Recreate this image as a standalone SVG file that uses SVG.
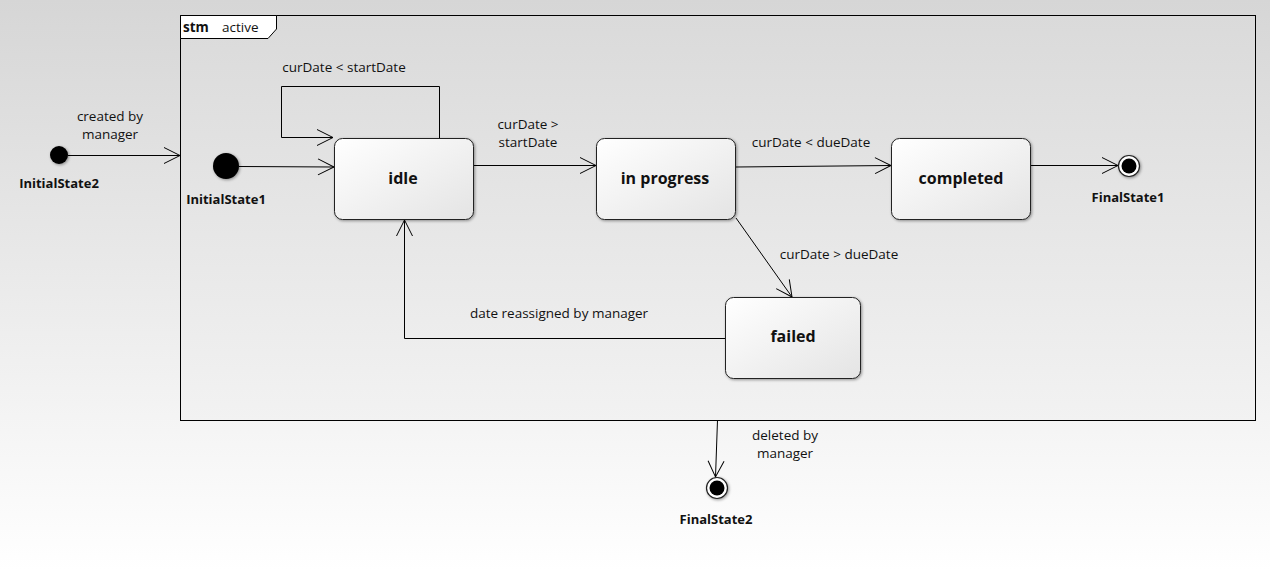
<svg xmlns="http://www.w3.org/2000/svg" width="1270" height="570" viewBox="0 0 1270 570">
<defs>
<linearGradient id="bg" x1="0" y1="0" x2="0" y2="1"><stop offset="0" stop-color="#d6d6d6"/><stop offset="1" stop-color="#ffffff"/></linearGradient>
<linearGradient id="fr" x1="0" y1="0" x2="0" y2="1"><stop offset="0" stop-color="#dadada"/><stop offset="1" stop-color="#f2f2f2"/></linearGradient>
<linearGradient id="nd" x1="0" y1="0" x2="1" y2="1"><stop offset="0" stop-color="#ffffff"/><stop offset="1" stop-color="#e4e4e4"/></linearGradient>
<filter id="sh" x="-20%" y="-20%" width="140%" height="140%"><feGaussianBlur in="SourceAlpha" stdDeviation="1.5"/><feOffset dx="1" dy="1"/><feComponentTransfer><feFuncA type="linear" slope="0.4"/></feComponentTransfer><feMerge><feMergeNode/><feMergeNode in="SourceGraphic"/></feMerge></filter>
<marker id="ar" viewBox="0 0 20 20" refX="18" refY="10" markerWidth="20" markerHeight="20" markerUnits="userSpaceOnUse" orient="auto"><path d="M2,2 L18,10 L2,18" fill="none" stroke="#000" stroke-width="1"/></marker>
</defs>
<style>
.lbl{font-family:"Open Sans","DejaVu Sans",sans-serif;font-size:13.5px;fill:#111}
.nm{font-family:"Open Sans","DejaVu Sans",sans-serif;font-size:16px;font-weight:bold;fill:#111;text-anchor:middle}
.pn{font-family:"Open Sans","DejaVu Sans",sans-serif;font-size:13px;font-weight:bold;fill:#111;text-anchor:middle}
.st{fill:url(#nd);stroke:#222;stroke-width:1;filter:url(#sh)}
.cn{fill:none;stroke:#000;stroke-width:1;marker-end:url(#ar)}
</style>
<rect x="0" y="0" width="1270" height="570" fill="url(#bg)"/>
<g id="frame">
<rect x="180.5" y="15.5" width="1075" height="405" fill="url(#fr)" stroke="#000" stroke-width="1"/>
<path d="M180.5,15.5 H276.5 V29 L268,38.5 H180.5 Z" fill="#fff" stroke="#000" stroke-width="1"/>
<text x="183" y="32" class="lbl" font-weight="bold">stm</text>
<text x="222" y="32" class="lbl">active</text>
</g>
<g id="connectors">
<line x1="68" y1="155.5" x2="180" y2="155.5" class="cn"/>
<line x1="239" y1="166.5" x2="334" y2="167" class="cn"/>
<path d="M439.5,138 V86.5 H281.5 V137.5 H333" class="cn"/>
<line x1="474" y1="165.5" x2="596" y2="165.5" class="cn"/>
<line x1="736" y1="167" x2="891" y2="165.5" class="cn"/>
<line x1="1028" y1="165.5" x2="1118" y2="165.5" class="cn"/>
<line x1="736" y1="218" x2="792" y2="297" class="cn"/>
<path d="M725,338.5 H404.5 V220" class="cn"/>
<line x1="717.5" y1="420" x2="715.5" y2="477" class="cn"/>
<text x="110" y="121" class="lbl" text-anchor="middle">created by</text>
<text x="110" y="139" class="lbl" text-anchor="middle">manager</text>
<text x="344" y="72" class="lbl" text-anchor="middle">curDate &lt; startDate</text>
<text x="528" y="129" class="lbl" text-anchor="middle">curDate &gt;</text>
<text x="528" y="147" class="lbl" text-anchor="middle">startDate</text>
<text x="811" y="147" class="lbl" text-anchor="middle">curDate &lt; dueDate</text>
<text x="839" y="259" class="lbl" text-anchor="middle">curDate &gt; dueDate</text>
<text x="559" y="318" class="lbl" text-anchor="middle">date reassigned by manager</text>
<text x="785" y="440" class="lbl" text-anchor="middle">deleted by</text>
<text x="785" y="458" class="lbl" text-anchor="middle">manager</text>
</g>
<g id="InitialState2">
<circle cx="59" cy="155" r="9" fill="#000" filter="url(#sh)"/>
<text x="59" y="188" class="pn">InitialState2</text>
</g>
<g id="InitialState1">
<circle cx="226" cy="166" r="13" fill="#000" filter="url(#sh)"/>
<text x="226" y="204" class="pn">InitialState1</text>
</g>
<g id="idle">
<rect x="334.5" y="138.5" width="139" height="81" rx="8" class="st"/>
<text x="403" y="184" class="nm">idle</text>
</g>
<g id="inprogress">
<rect x="596.5" y="138.5" width="139" height="81" rx="8" class="st"/>
<text x="665" y="184" class="nm">in progress</text>
</g>
<g id="completed">
<rect x="891.5" y="138.5" width="139" height="81" rx="8" class="st"/>
<text x="961" y="184" class="nm">completed</text>
</g>
<g id="failed">
<rect x="725.5" y="297.5" width="135" height="81" rx="8" class="st"/>
<text x="793" y="342" class="nm">failed</text>
</g>
<g id="FinalState1">
<circle cx="1129" cy="166" r="10.5" fill="#fff" stroke="#222" stroke-width="1.2" filter="url(#sh)"/>
<circle cx="1129" cy="166" r="7.5" fill="#000"/>
<text x="1128" y="202" class="pn">FinalState1</text>
</g>
<g id="FinalState2">
<circle cx="717" cy="488" r="10.5" fill="#fff" stroke="#222" stroke-width="1.2" filter="url(#sh)"/>
<circle cx="717" cy="488" r="7.5" fill="#000"/>
<text x="716" y="524" class="pn">FinalState2</text>
</g>
</svg>
